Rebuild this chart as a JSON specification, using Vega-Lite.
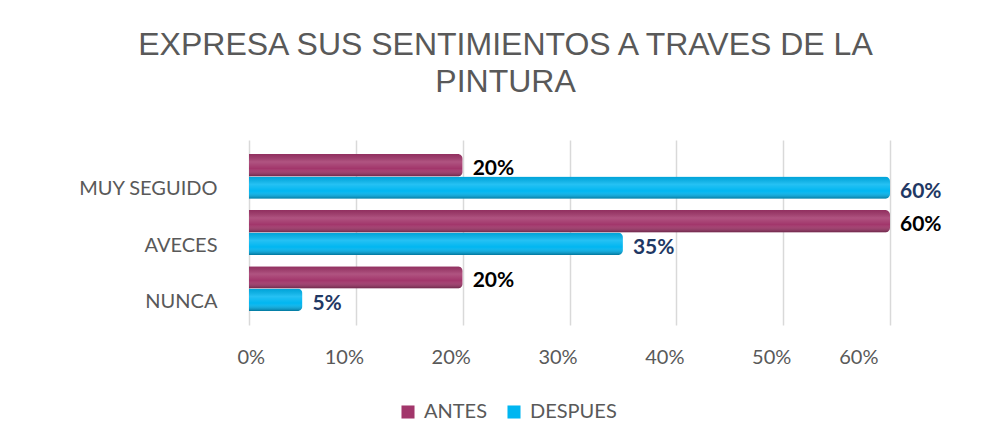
{
  "$schema": "https://vega.github.io/schema/vega-lite/v6.json",
  "width": 641,
  "height": 185,
  "autosize": {"type": "none"},
  "padding": {"left": 249, "top": 140, "right": 100, "bottom": 123},
  "background": "white",
  "config": {"view": {"stroke": null}},
  "title": {
    "text": ["EXPRESA SUS SENTIMIENTOS A TRAVES DE LA", "PINTURA"],
    "fontSize": 32,
    "font": "Liberation Sans",
    "fontWeight": "normal",
    "color": "#595959",
    "anchor": "middle",
    "dx": -64,
    "offset": 41,
    "lineHeight": 37
  },
  "data": {
    "values": [
      {"cat": "MUY SEGUIDO", "serie": "ANTES", "v": 0.2},
      {"cat": "MUY SEGUIDO", "serie": "DESPUES", "v": 0.6},
      {"cat": "AVECES", "serie": "ANTES", "v": 0.6},
      {"cat": "AVECES", "serie": "DESPUES", "v": 0.35},
      {"cat": "NUNCA", "serie": "ANTES", "v": 0.2},
      {"cat": "NUNCA", "serie": "DESPUES", "v": 0.05}
    ]
  },
  "encoding": {
    "y": {
      "field": "cat",
      "type": "nominal",
      "sort": ["MUY SEGUIDO", "AVECES", "NUNCA"],
      "scale": {"paddingInner": 0.2, "paddingOuter": 0.25},
      "axis": {
        "title": null,
        "domain": false,
        "ticks": false,
        "labelFont": "Lato",
        "labelFontSize": 20,
        "labelColor": "#595959",
        "labelPadding": 32,
        "labelOffset": 13
      }
    },
    "yOffset": {"field": "serie", "type": "nominal", "sort": ["ANTES", "DESPUES"]},
    "x": {
      "field": "v",
      "type": "quantitative",
      "scale": {"domain": [0, 0.6]},
      "axis": {
        "title": null,
        "format": ".0%",
        "values": [0, 0.1, 0.2, 0.3, 0.4, 0.5, 0.6],
        "domain": false,
        "ticks": false,
        "grid": true,
        "gridColor": "#D9D9D9",
        "gridWidth": 1.5,
        "labelFont": "Lato",
        "labelFontSize": 20,
        "labelColor": "#595959",
        "labelPadding": 22,
        "labelOffset": -12
      }
    }
  },
  "layer": [
    {
      "mark": {"type": "bar", "cornerRadiusEnd": 5},
      "encoding": {
        "color": {
          "field": "serie",
          "type": "nominal",
          "scale": {"domain": ["ANTES", "DESPUES"], "range": ["#A2366B", "#00B6F1"]},
          "legend": {
            "title": null,
            "orient": "none",
            "direction": "horizontal",
            "legendX": 149,
            "legendY": 262,
            "symbolType": "square",
            "symbolSize": 170,
            "symbolStrokeWidth": 0,
            "labelFont": "Lato",
            "labelFontSize": 20,
            "labelColor": "#595959",
            "columnPadding": 16,
            "labelOffset": 6
          }
        }
      }
    },
    {
      "mark": {
        "type": "bar",
        "cornerRadiusEnd": 5,
        "fill": {
          "gradient": "linear",
          "x1": 0, "y1": 0, "x2": 0, "y2": 1,
          "stops": [
            {"offset": 0, "color": "rgba(0,0,0,0.1)"},
            {"offset": 0.35, "color": "rgba(255,255,255,0.15)"},
            {"offset": 0.65, "color": "rgba(255,255,255,0)"},
            {"offset": 1, "color": "rgba(0,0,0,0.35)"}
          ]
        }
      }
    },
    {
      "mark": {"type": "text", "align": "left", "baseline": "middle", "dx": 10, "dy": 4, "fontSize": 21, "fontWeight": "bold", "font": "Lato"},
      "encoding": {
        "text": {"field": "v", "type": "quantitative", "format": ".0%"},
        "color": {"condition": {"test": "datum.serie === 'ANTES'", "value": "#000000"}, "value": "#1F3864"}
      }
    }
  ]
}
